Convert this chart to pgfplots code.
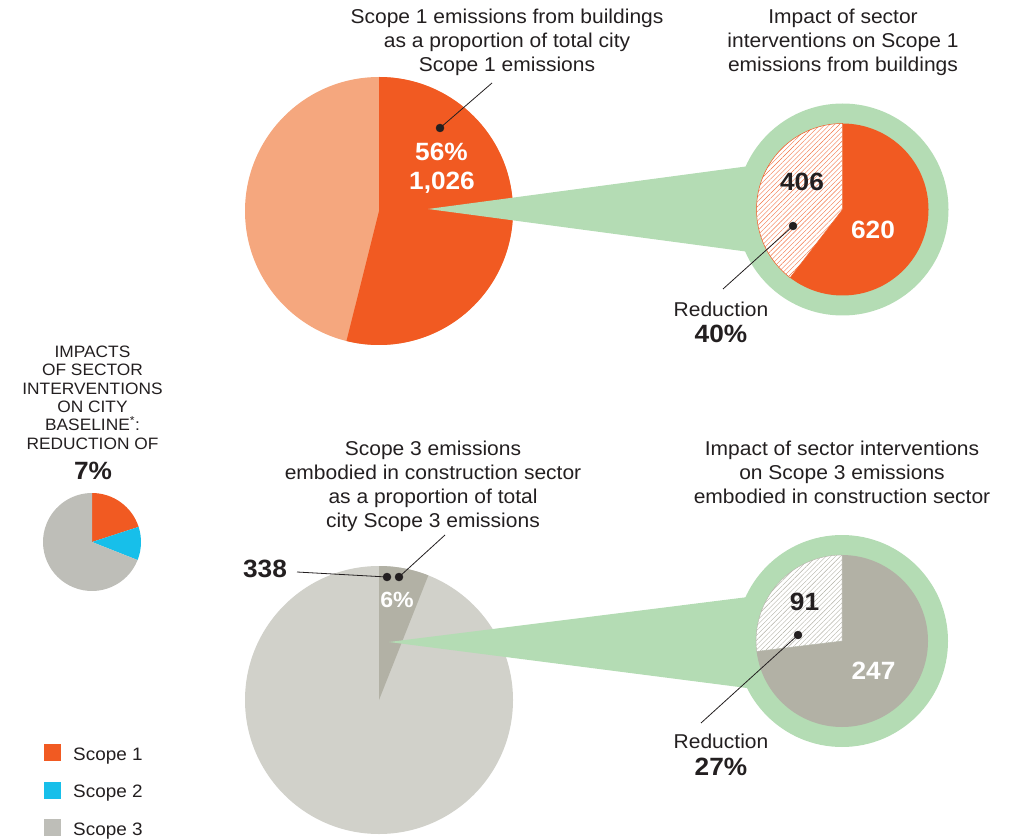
\documentclass[border=0pt]{standalone}
\usepackage{pgfplots}
\pgfplotsset{compat=1.18}
\usetikzlibrary{patterns.meta}
\usepackage{fontspec}
\setmainfont{Liberation Sans}[FakeStretch=1.05]

\definecolor{orA}{HTML}{F15A22}
\definecolor{orL}{HTML}{F5A77E}
\definecolor{grn}{HTML}{B4DCB4}
\definecolor{gL}{HTML}{D1D1CA}
\definecolor{gD}{HTML}{B2B1A5}
\definecolor{gS}{HTML}{BEBEB8}
\definecolor{blu}{HTML}{17BFEA}
\definecolor{txt}{HTML}{231F20}

% ---- data ----
\def\sBldg{53.9}      % share of Scope 1 from buildings (as drawn)
\def\sRemainA{620}\def\sRedA{406}
\def\sCons{6}          % share of Scope 3 in construction
\def\sRemainB{247}\def\sRedB{91}
\def\cityA{20}\def\cityB{11}\def\cityC{69}

\pgfmathsetmacro{\aTop}{90-3.6*\sBldg}
\pgfmathsetmacro{\aTopIn}{90-360*(\sRemainA/(\sRemainA+\sRedA))}
\pgfmathsetmacro{\aBot}{90-3.6*\sCons}
\pgfmathsetmacro{\aBotIn}{90-360*(\sRemainB/(\sRemainB+\sRedB))}
\pgfmathsetmacro{\aCA}{90-3.6*\cityA}
\pgfmathsetmacro{\aCB}{\aCA-3.6*\cityB}

\tikzset{
  tl/.style={anchor=base,inner sep=0pt,text=txt,font=\fontsize{20}{24}\selectfont},
  bn/.style={anchor=base,inner sep=0pt,font=\fontsize{25}{28}\selectfont\bfseries},
  cp/.style={anchor=base,inner sep=0pt,text=txt,font=\fontsize{16.5}{18}\selectfont},
  lg/.style={anchor=base west,inner sep=0pt,text=txt,font=\fontsize{18}{20}\selectfont},
}

\begin{document}
\begin{tikzpicture}
\begin{axis}[x=1pt,y=1pt,xmin=0,xmax=1027,ymin=0,ymax=839,
  hide axis,clip=false,scale only axis]
\path (axis cs:0,0) rectangle (axis cs:1027,839);
% ---- top pie ----
\fill[orL] (axis cs:379,628) circle[radius=134pt];
\fill[orA] (axis cs:379,628) -- ++(90:134pt) arc[start angle=90,end angle=\aTop,radius=134pt] -- cycle;
% callout
\fill[grn] (axis cs:428,630) -- (axis cs:760,674.4) -- (axis cs:760,585.6) -- cycle;
\fill[grn] (axis cs:842.5,629.5) circle[radius=106pt];
\fill[orA] (axis cs:842.5,629.5) -- ++(90:86pt) arc[start angle=90,end angle=\aTopIn,radius=86pt] -- cycle;
\fill[white] (axis cs:842.5,629.5) -- ++(\aTopIn:86pt) arc[start angle=\aTopIn,end angle=-270,radius=86pt] -- cycle;
\path[pattern={Lines[angle=45,distance=3.4pt,line width=0.4pt]},pattern color=orA!85,draw=orA,line width=0.5pt]
  (axis cs:842.5,629.5) -- ++(\aTopIn:86pt) arc[start angle=\aTopIn,end angle=-270,radius=86pt] -- cycle;
% ---- bottom pie ----
\fill[gL] (axis cs:379,139) circle[radius=134pt];
\fill[gD] (axis cs:379,139) -- ++(90:134pt) arc[start angle=90,end angle=\aBot,radius=134pt] -- cycle;
\fill[grn] (axis cs:389,197) -- (axis cs:760,243.5) -- (axis cs:760,149.3) -- cycle;
\fill[grn] (axis cs:842,198) circle[radius=106pt];
\fill[gD] (axis cs:842,198) -- ++(90:86pt) arc[start angle=90,end angle=\aBotIn,radius=86pt] -- cycle;
\fill[white] (axis cs:842,198) -- ++(\aBotIn:86pt) arc[start angle=\aBotIn,end angle=-270,radius=86pt] -- cycle;
\path[pattern={Lines[angle=45,distance=3.4pt,line width=0.4pt]},pattern color=gD,draw=gD,line width=0.4pt]
  (axis cs:842,198) -- ++(\aBotIn:86pt) arc[start angle=\aBotIn,end angle=-270,radius=86pt] -- cycle;
% ---- small city pie ----
\fill[orA] (axis cs:92,297) -- ++(90:49pt) arc[start angle=90,end angle=\aCA,radius=49pt] -- cycle;
\fill[blu] (axis cs:92,297) -- ++(\aCA:49pt) arc[start angle=\aCA,end angle=\aCB,radius=49pt] -- cycle;
\fill[gS] (axis cs:92,297) -- ++(\aCB:49pt) arc[start angle=\aCB,end angle=-270,radius=49pt] -- cycle;
% ---- legend ----
\addplot[only marks,mark=square*,mark size=8pt,color=orA] coordinates {(52,87)};
\addplot[only marks,mark=square*,mark size=8pt,color=blu] coordinates {(52,49)};
\addplot[only marks,mark=square*,mark size=8pt,color=gS] coordinates {(52,12)};
\node[lg] at (axis cs:73,79) {Scope 1};
\node[lg] at (axis cs:73,41.3) {Scope 2};
\node[lg] at (axis cs:73,4) {Scope 3};
% ---- leader lines ----
\addplot[txt,line width=0.8pt] coordinates {(440,711) (492,756)};
\addplot[txt,line width=0.8pt] coordinates {(793,613) (723,550)};
\addplot[txt,line width=0.8pt] coordinates {(297,267) (387,262)};
\addplot[txt,line width=0.8pt] coordinates {(399,262) (445,304)};
\addplot[txt,line width=0.8pt] coordinates {(798,204) (701,116)};
\addplot[only marks,mark=*,mark size=4pt,color=txt] coordinates {(440,711) (793,613) (387,262) (399,262) (798,204)};
% ---- titles ----
\node[tl] at (axis cs:507,815) {Scope 1 emissions from buildings};
\node[tl] at (axis cs:507,791) {as a proportion of total city};
\node[tl] at (axis cs:507,767) {Scope 1 emissions};
\node[tl] at (axis cs:843,815) {Impact of sector};
\node[tl] at (axis cs:843,791) {interventions on Scope 1};
\node[tl] at (axis cs:843,767) {emissions from buildings};
\node[tl] at (axis cs:433,384) {Scope 3 emissions};
\node[tl] at (axis cs:433,360) {embodied in construction sector};
\node[tl] at (axis cs:433,336) {as a proportion of total};
\node[tl] at (axis cs:433,312) {city Scope 3 emissions};
\node[tl] at (axis cs:842,384) {Impact of sector interventions};
\node[tl] at (axis cs:842,360) {on Scope 3 emissions};
\node[tl] at (axis cs:842,336) {embodied in construction sector};
\node[tl] at (axis cs:721,522) {Reduction};
\node[bn,text=txt] at (axis cs:721,496) {40\%};
\node[tl] at (axis cs:721,91) {Reduction};
\node[bn,text=txt] at (axis cs:721,64) {27\%};
% ---- numbers ----
\node[bn,text=white] at (axis cs:441.5,678) {56\%};
\node[bn,text=white] at (axis cs:442,649) {1,026};
\node[bn,text=txt] at (axis cs:802,648) {406};
\node[bn,text=white] at (axis cs:873,600) {620};
\node[bn,text=txt] at (axis cs:265,262) {338};
\node[bn,text=white,font=\fontsize{22}{24}\selectfont\bfseries] at (axis cs:397,232) {6\%};
\node[bn,text=txt] at (axis cs:804.5,229) {91};
\node[bn,text=white] at (axis cs:873.5,160) {247};
\node[bn,text=txt] at (axis cs:93,360) {7\%};
% ---- caps block ----
\node[cp] at (axis cs:92.5,481.7) {IMPACTS};
\node[cp] at (axis cs:92.5,463.3) {OF SECTOR};
\node[cp] at (axis cs:92.5,445) {INTERVENTIONS};
\node[cp] at (axis cs:92.5,427) {ON CITY};
\node[cp] at (axis cs:92.5,408.3) {BASELINE\textsuperscript{*}:};
\node[cp] at (axis cs:92.5,389.7) {REDUCTION OF};
\end{axis}
\end{tikzpicture}
\end{document}
